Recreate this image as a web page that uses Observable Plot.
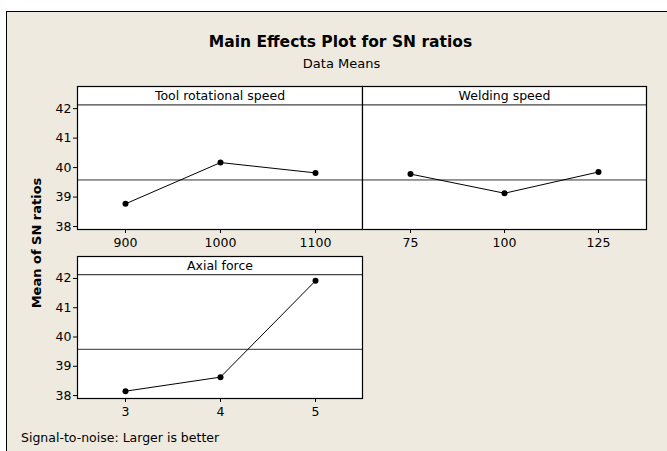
<!DOCTYPE html>
<html>
<head>
<meta charset="utf-8">
<script src="https://cdn.jsdelivr.net/npm/d3@7"></script>
<script src="https://cdn.jsdelivr.net/npm/@observablehq/plot@0.6"></script>
<style>
  html, body { margin: 0; padding: 0; background: #fff; }
  #chart { position: relative; width: 667px; height: 451px; overflow: hidden; background: #fff; font-family: "DejaVu Sans", sans-serif; }
  #bg { position: absolute; left: 6px; top: 11px; width: 700px; height: 500px; background: #EEEAE0; border-left: 1px solid #000; border-top: 1px solid #000; }
  .txt { position: absolute; white-space: nowrap; line-height: 1; color: #000; }
  #chart svg { position: absolute; left: 0; top: 0; }
</style>
</head>
<body>
<div id="chart">
  <div id="bg"></div>
  <div class="txt" id="title" style="left:0;width:681px;text-align:center;top:35px;font-size:15.5px;font-weight:bold;"></div>
  <div class="txt" id="subtitle" style="left:0;width:683px;text-align:center;top:57px;font-size:13px;"></div>
  <div class="txt" id="ylabel" style="left:36px;top:243px;font-size:13px;font-weight:bold;transform:translate(-50%,-50%) rotate(-90deg);"></div>
  <div class="txt" id="footer" style="left:21px;top:432px;font-size:12.5px;"></div>
</div>
<script>
// ---- Data ----
const titleText = "Main Effects Plot for SN ratios";
const subtitleText = "Data Means";
const yLabelText = "Mean of SN ratios";
const footerText = "Signal-to-noise: Larger is better";

const factorNames = ["Tool rotational speed", "Welding speed", "Axial force"];

const toolSpeedLevels = ["900", "1000", "1100"];
const toolSpeedSN = [38.77, 40.17, 39.82];

const weldingSpeedLevels = ["75", "100", "125"];
const weldingSpeedSN = [39.78, 39.13, 39.85];

const axialForceLevels = ["3", "4", "5"];
const axialForceSN = [38.15, 38.63, 41.92];

const grandMean = 39.58;
const yTicks = [38, 39, 40, 41, 42];

// ---- Text ----
document.getElementById("title").textContent = titleText;
document.getElementById("subtitle").textContent = subtitleText;
document.getElementById("ylabel").textContent = yLabelText;
document.getElementById("footer").textContent = footerText;

// ---- Panels ----
const W = 667, H = 451;
const yDomain = [37.9, 42.75];
const stripLine = 42.13;

function panel(name, levels, values, box, showY) {
  const data = levels.map((l, i) => ({level: l, sn: values[i]}));
  const marks = [
    Plot.frame({fill: "white"}),
    Plot.ruleY([grandMean], {stroke: "#333", strokeWidth: 1}),
    Plot.ruleY([stripLine], {stroke: "#444", strokeWidth: 1.3}),
    Plot.line(data, {x: "level", y: "sn", stroke: "#000", strokeWidth: 1}),
    Plot.dot(data, {x: "level", y: "sn", r: 3, fill: "#000", stroke: "none"}),
    Plot.text([name], {frameAnchor: "top", lineAnchor: "middle", dy: 9.5, fontSize: 12.5, fill: "#000"}),
    Plot.frame({stroke: "#000", strokeWidth: 1.2}),
    Plot.axisX({anchor: "bottom", tickSize: 4, tickPadding: 5, fontSize: 12.5, label: null})
  ];
  if (showY) marks.push(Plot.axisY({anchor: "left", ticks: yTicks, tickFormat: d3.format("d"), tickSize: 4, tickPadding: 2, fontSize: 12.5, label: null}));
  return Plot.plot({
    width: W, height: H,
    marginLeft: box.left, marginRight: W - box.right,
    marginTop: box.top, marginBottom: H - box.bottom,
    style: {background: "transparent", fontFamily: "DejaVu Sans, sans-serif", fontSize: "12.5px", color: "#000", overflow: "visible"},
    x: {type: "point", domain: levels, padding: 0.5, axis: null},
    y: {domain: yDomain, axis: null},
    marks
  });
}

const chart = document.getElementById("chart");
chart.appendChild(panel(factorNames[0], toolSpeedLevels, toolSpeedSN, {left: 77, right: 362, top: 86, bottom: 229}, true));
chart.appendChild(panel(factorNames[1], weldingSpeedLevels, weldingSpeedSN, {left: 362, right: 646, top: 86, bottom: 229}, false));
chart.appendChild(panel(factorNames[2], axialForceLevels, axialForceSN, {left: 77, right: 362, top: 256, bottom: 398}, true));
// keep text above svgs
["title","subtitle","ylabel","footer"].forEach(id => chart.appendChild(document.getElementById(id)));
</script>
</body>
</html>
